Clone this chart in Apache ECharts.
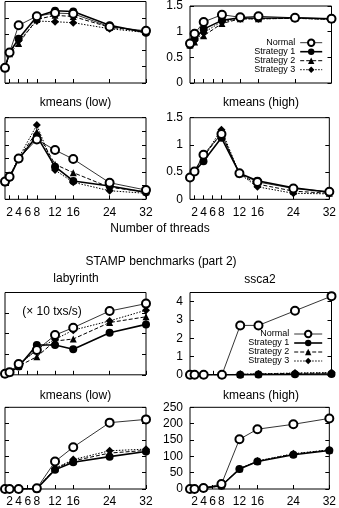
<!DOCTYPE html>
<html>
<head>
<meta charset="utf-8">
<script src="https://cdn.jsdelivr.net/npm/echarts@6/dist/echarts.min.js"></script>
<style>
html, body { margin: 0; padding: 0; background: #fff; }
#chart { width: 339px; height: 508px; }
</style>
</head>
<body>
<div id="chart"></div>
<script>
// thread counts (x) and x tick labels
var threads = [1, 2, 4, 8, 12, 16, 24, 32];
var xTicks = [2, 4, 6, 8, 12, 16, 24, 32];
var seriesNames = ['Normal', 'Strategy 1', 'Strategy 2', 'Strategy 3'];

// row 1 left (labels cropped off)
var topL_normal = [0.93, 1.87, 3.54, 4.1, 4.29, 4.25, 3.45, 3.2];
var topL_s1     = [0.93, 1.87, 2.72, 4.08, 4.43, 4.39, 3.54, 3.09];
var topL_s2     = [0.93, 1.8, 2.43, 3.9, 4.15, 4.08, 3.42, 3.15];
var topL_s3     = [0.93, 1.85, 2.6, 3.8, 3.76, 3.7, 3.33, 3.1];
// row 1 right
var topR_normal = [0.77, 0.96, 1.19, 1.33, 1.28, 1.3, 1.27, 1.25];
var topR_s1     = [0.74, 0.86, 1.05, 1.22, 1.27, 1.26, 1.27, 1.25];
var topR_s2     = [0.74, 0.8, 0.92, 1.16, 1.25, 1.25, 1.26, 1.24];
var topR_s3     = [0.75, 0.83, 0.98, 1.2, 1.25, 1.25, 1.26, 1.24];
// kmeans (low), part 1
var kLowA_normal = [1.3, 1.66, 3.0, 4.4, 3.62, 2.96, 1.22, 0.68];
var kLowA_s1     = [1.25, 1.6, 2.95, 4.65, 2.4, 1.35, 0.98, 0.51];
var kLowA_s2     = [1.3, 1.65, 3.0, 4.97, 2.57, 1.96, 0.88, 0.55];
var kLowA_s3     = [1.3, 1.7, 3.05, 5.46, 2.15, 1.25, 0.63, 0.44];
// kmeans (high), part 1
var kHighA_normal = [0.4, 0.51, 0.82, 1.2, 0.48, 0.32, 0.2, 0.14];
var kHighA_s1     = [0.4, 0.51, 0.7, 1.13, 0.48, 0.34, 0.21, 0.13];
var kHighA_s2     = [0.4, 0.52, 0.78, 1.22, 0.47, 0.28, 0.15, 0.11];
var kHighA_s3     = [0.41, 0.52, 0.78, 1.28, 0.47, 0.23, 0.11, 0.1];
// labyrinth
var laby_normal = [0.05, 0.13, 0.52, 1.2, 1.93, 2.29, 3.1, 3.46];
var laby_s1     = [0.05, 0.12, 0.4, 1.45, 1.45, 1.24, 2.04, 2.45];
var laby_s2     = [0.04, 0.1, 0.42, 0.88, 1.64, 1.74, 2.54, 2.82];
var laby_s3     = [0.05, 0.12, 0.45, 1.24, 1.72, 2.17, 2.62, 3.14];
// ssca2
var ssca_normal = [0, 0, 0, 0, 2.7, 2.7, 3.5, 4.3];
var ssca_s1     = [0, 0, 0, 0, 0, 0.02, 0.03, 0.04];
var ssca_s2     = [0, 0, 0, 0, 0.02, 0.04, 0.08, 0.1];
var ssca_s3     = [0, 0, 0, 0, 0.03, 0.05, 0.1, 0.12];
// kmeans (low), part 2
var kLowB_normal = [0, 0, 0, 2, 84, 128, 203, 213];
var kLowB_s1     = [0, 0, 0, 1, 59, 82, 99, 115];
var kLowB_s2     = [0, 0, 0, 1, 63, 86, 110, 118];
var kLowB_s3     = [0, 0, 0, 1, 63, 90, 117, 122];
// kmeans (high), part 2
var kHighB_normal = [0, 0, 3, 15, 152, 183, 198, 216];
var kHighB_s1     = [0, 0, 3, 10, 61, 84, 105, 118];
var kHighB_s2     = [0, 0, 3, 10, 62, 85, 107, 119];
var kHighB_s3     = [0, 0, 3, 10, 61, 86, 108, 120];

var FONT = '"Liberation Sans", Arial, sans-serif';

// panel layout: grid box, y range, whether labels show
var panels = [
    {box: [5, 1.5, 141, 81.5],     y: [0, 5, 1],      yLab: false, xLab: false, data: [topL_normal, topL_s1, topL_s2, topL_s3]},
    {box: [190, 1.5, 141.5, 81.5], y: [0, 1.5, 0.5],  yLab: true,  xLab: false, data: [topR_normal, topR_s1, topR_s2, topR_s3]},
    {box: [5, 117.7, 141, 81.6],   y: [0, 6, 1],      yLab: false, xLab: true,  data: [kLowA_normal, kLowA_s1, kLowA_s2, kLowA_s3]},
    {box: [190, 117.7, 141.5, 81.6], y: [0, 1.5, 0.5], yLab: true, xLab: true,  data: [kHighA_normal, kHighA_s1, kHighA_s2, kHighA_s3]},
    {box: [5, 292.5, 141, 82.3],   y: [0, 4, 1],      yLab: false, xLab: false, data: [laby_normal, laby_s1, laby_s2, laby_s3]},
    {box: [190, 292.5, 141.5, 82.3], y: [0, 4.5, 1],  yLab: true,  xLab: false, data: [ssca_normal, ssca_s1, ssca_s2, ssca_s3], yVals: [0, 1, 2, 3, 4]},
    {box: [5, 407.3, 141, 82],     y: [0, 250, 50],   yLab: false, xLab: true,  data: [kLowB_normal, kLowB_s1, kLowB_s2, kLowB_s3]},
    {box: [190, 407.3, 141.5, 82], y: [0, 250, 50],   yLab: true,  xLab: true,  data: [kHighB_normal, kHighB_s1, kHighB_s2, kHighB_s3]}
];

var styles = [
    {symbol: 'emptyCircle', size: 8,   border: 0.8, line: {width: 0.8, type: 'solid'}},
    {symbol: 'circle',      size: 8,   border: 0,   line: {width: 1.6, type: 'solid'}},
    {symbol: 'triangle',    size: 7,   border: 0,   line: {width: 1, type: [4, 2]}},
    {symbol: 'diamond',     size: 8,   border: 0,   line: {width: 1, type: [1.5, 1.5]}}
];

var grids = [], xAxes = [], yAxes = [], series = [];

for (var i = 0; i < panels.length; i++) {
    var p = panels[i];
    grids.push({
        left: p.box[0], top: p.box[1], width: p.box[2], height: p.box[3],
        show: true, borderColor: '#000', borderWidth: 1, backgroundColor: 'transparent'
    });
    xAxes.push({
        gridIndex: i, type: 'value', min: 1, max: 32,
        axisLine: {show: false}, splitLine: {show: false},
        axisTick: {show: true, inside: true, length: 4, customValues: xTicks, lineStyle: {color: '#000'}},
        axisLabel: {show: p.xLab, customValues: xTicks, margin: 7, color: '#000', fontSize: 12, fontFamily: FONT}
    });
    var yv = p.yVals;
    var yTickCfg = {show: true, inside: true, length: 4, lineStyle: {color: '#000'}};
    if (yv) yTickCfg.customValues = yv;
    var yLabCfg = {show: p.yLab, margin: 7, color: '#000', fontSize: 12, fontFamily: FONT};
    if (yv) yLabCfg.customValues = yv;
    yAxes.push({
        gridIndex: i, type: 'value', min: p.y[0], max: p.y[1], interval: p.y[2],
        axisLine: {show: false}, splitLine: {show: false},
        axisTick: yTickCfg, axisLabel: yLabCfg
    });
    // mirror ticks on the right
    yAxes.push({
        gridIndex: i, type: 'value', position: 'right', min: p.y[0], max: p.y[1], interval: p.y[2],
        axisLine: {show: false}, splitLine: {show: false},
        axisTick: yTickCfg, axisLabel: {show: false}
    });
    for (var s = 0; s < 4; s++) {
        var pts = [];
        for (var k = 0; k < threads.length; k++) {
            pts.push([threads[k], p.data[s][k]]);
        }
        series.push({
            name: seriesNames[s], type: 'line',
            xAxisIndex: i, yAxisIndex: i * 2,
            data: pts,
            symbol: styles[s].symbol, symbolSize: styles[s].size,
            showAllSymbol: true,
            itemStyle: {color: '#000', borderColor: '#000', borderWidth: styles[s].border},
            lineStyle: {color: '#000', width: styles[s].line.width, type: styles[s].line.type},
            animation: false, silent: true, z: 4 - s
        });
    }
}

function label(txt, x, y) {
    return {
        type: 'text', x: x, y: y,
        style: {text: txt, fill: '#000', font: '12px ' + FONT, textAlign: 'center', textVerticalAlign: 'middle'}
    };
}

// legend items, thin line for Normal like the plot
var legendItems = [];
for (var n = 0; n < seriesNames.length; n++) {
    legendItems.push({
        name: seriesNames[n],
        lineStyle: {width: styles[n].line.width, type: styles[n].line.type},
        itemStyle: {borderWidth: styles[n].border}
    });
}

var legendCommon = {
    orient: 'vertical', align: 'right', itemHeight: 8, itemGap: 0, padding: 0,
    data: legendItems, selectedMode: false,
    textStyle: {fontSize: 9, lineHeight: 9, color: '#000', fontFamily: FONT}
};

var option = {
    animation: false,
    grid: grids,
    xAxis: xAxes,
    yAxis: yAxes,
    series: series,
    legend: [
        Object.assign({}, legendCommon, {right: 16, top: 38.2, itemWidth: 22}),
        Object.assign({}, legendCommon, {right: 16, top: 329.5, itemWidth: 28})
    ],
    graphic: [
        label('kmeans (low)', 75.5, 103),
        label('kmeans (high)', 261, 103),
        label('Number of threads', 160, 229),
        label('STAMP benchmarks (part 2)', 161, 262),
        label('labyrinth', 76, 279),
        label('ssca2', 260, 280),
        label('(\u00d7 10 txs/s)', 52, 312),
        label('kmeans (low)', 75.5, 396),
        label('kmeans (high)', 261, 396)
    ]
};

var chart = echarts.init(document.getElementById('chart'));
chart.setOption(option);
</script>
</body>
</html>
